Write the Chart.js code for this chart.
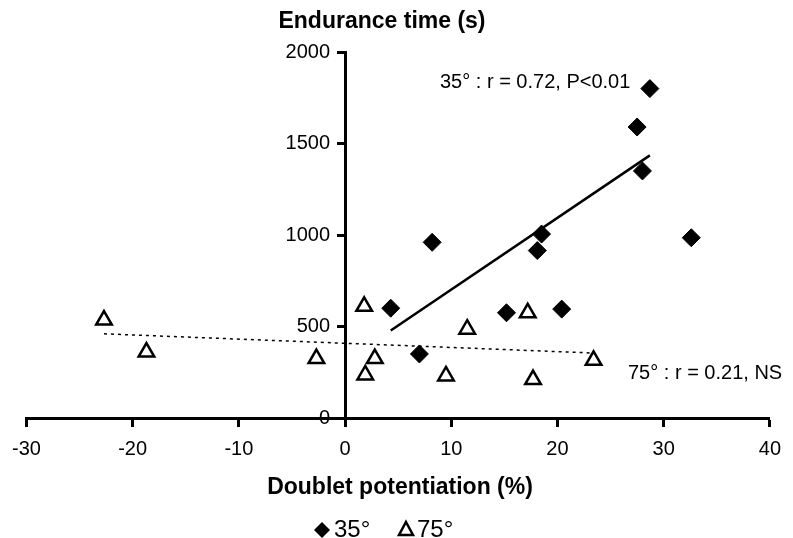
<!DOCTYPE html>
<html>
<head>
<meta charset="utf-8">
<script src="https://cdn.jsdelivr.net/npm/chart.js@4"></script>
<style>
  html, body { margin: 0; padding: 0; background: #fff; }
  #wrap { width: 793px; height: 538px; }
</style>
</head>
<body>
<div id="wrap"><canvas id="chart"></canvas></div>
<script>
// 35 deg: doublet potentiation (%) vs endurance time (s)
const x35 = [4.3, 7.0, 8.2, 15.2, 18.1, 18.5, 20.4, 27.5, 28.0, 28.7, 32.6];
const y35 = [600, 350, 960, 575, 915, 1005, 595, 1590, 1350, 1800, 985];

// 75 deg
const x75 = [-22.7, -18.7, -2.7, 1.8, 1.9, 2.8, 9.5, 11.5, 17.2, 17.7, 23.4];
const y75 = [535, 360, 325, 610, 235, 325, 230, 485, 575, 210, 315];

// regression lines (end points)
const fit35x = [4.3, 28.7];
const fit35y = [478, 1435];
const fit75x = [-22.7, 23.4];
const fit75y = [460, 355];

const xTicks = [-30, -20, -10, 0, 10, 20, 30, 40];
const yTicks = [0, 500, 1000, 1500, 2000];

const FONT = "'Liberation Sans', Arial, sans-serif";

const toPts = (xs, ys) => xs.map((x, i) => ({ x: x, y: ys[i] }));

// y tick labels (left of the crossing axis), titles, notes, legend
const textPlugin = {
  id: "texts",
  afterDraw(chart) {
    const ctx = chart.ctx;
    const xs = chart.scales.x;
    const ys = chart.scales.y;
    ctx.save();
    ctx.fillStyle = "#000";
    ctx.textBaseline = "middle";

    ctx.font = "20px " + FONT;
    ctx.textAlign = "right";
    const x0 = xs.getPixelForValue(0);
    yTicks.forEach((v) => {
      ctx.fillText(String(v), x0 - 15, ys.getPixelForValue(v));
    });

    ctx.font = "bold 23px " + FONT;
    ctx.textAlign = "center";
    ctx.fillText("Endurance time (s)", 382, 22);
    ctx.fillText("Doublet potentiation (%)", 400, 488);

    ctx.font = "20px " + FONT;
    ctx.textAlign = "left";
    ctx.fillText("35° : r = 0.72, P<0.01", 440, 82);
    ctx.fillText("75° : r = 0.21, NS", 628, 373);

    // legend
    ctx.font = "24px " + FONT;
    ctx.beginPath();
    ctx.moveTo(322, 522); ctx.lineTo(330, 530); ctx.lineTo(322, 538); ctx.lineTo(314, 530);
    ctx.closePath();
    ctx.fill();
    ctx.fillText("35°", 334, 530);
    ctx.lineWidth = 2.5;
    ctx.beginPath();
    ctx.moveTo(406, 522); ctx.lineTo(413, 535); ctx.lineTo(399, 535);
    ctx.closePath();
    ctx.stroke();
    ctx.fillText("75°", 417, 530);
    ctx.restore();
  },
};

new Chart(document.getElementById("chart"), {
  type: "scatter",
  data: {
    datasets: [
      {
        label: "35°",
        data: toPts(x35, y35),
        pointStyle: "rectRot",
        pointRadius: 9,
        backgroundColor: "#000",
        borderColor: "#000",
        borderWidth: 1,
      },
      {
        label: "75°",
        data: toPts(x75, y75),
        pointStyle: "triangle",
        pointRadius: 9,
        backgroundColor: "#fff",
        borderColor: "#000",
        borderWidth: 2.5,
      },
      {
        label: "fit 35",
        data: toPts(fit35x, fit35y),
        showLine: true,
        pointRadius: 0,
        borderColor: "#000",
        borderWidth: 2.5,
        order: 5,
      },
      {
        label: "fit 75",
        data: toPts(fit75x, fit75y),
        showLine: true,
        pointRadius: 0,
        borderColor: "#000",
        borderWidth: 1.5,
        borderDash: [3, 4],
        order: 5,
      },
    ],
  },
  options: {
    responsive: true,
    maintainAspectRatio: false,
    animation: false,
    layout: { padding: { left: 24, right: 18, top: 52, bottom: 120 } },
    scales: {
      x: {
        type: "linear",
        position: { y: 0 },
        min: -30,
        max: 40,
        afterBuildTicks: (axis) => { axis.ticks = xTicks.map((v) => ({ value: v })); },
        grid: { drawOnChartArea: false, drawTicks: true, tickLength: 7, tickWidth: 3, tickColor: "#000" },
        border: { display: true, color: "#000", width: 3 },
        ticks: { color: "#000", font: { family: FONT, size: 20 }, padding: 12 },
      },
      y: {
        type: "linear",
        position: { x: 0 },
        min: 0,
        max: 2000,
        afterBuildTicks: (axis) => { axis.ticks = yTicks.map((v) => ({ value: v })); },
        grid: { drawOnChartArea: false, drawTicks: true, tickLength: 7, tickWidth: 3, tickColor: "#000" },
        border: { display: true, color: "#000", width: 3 },
        ticks: { display: false },
      },
    },
    plugins: {
      legend: { display: false },
      tooltip: { enabled: false },
    },
  },
  plugins: [textPlugin],
});
</script>
</body>
</html>
